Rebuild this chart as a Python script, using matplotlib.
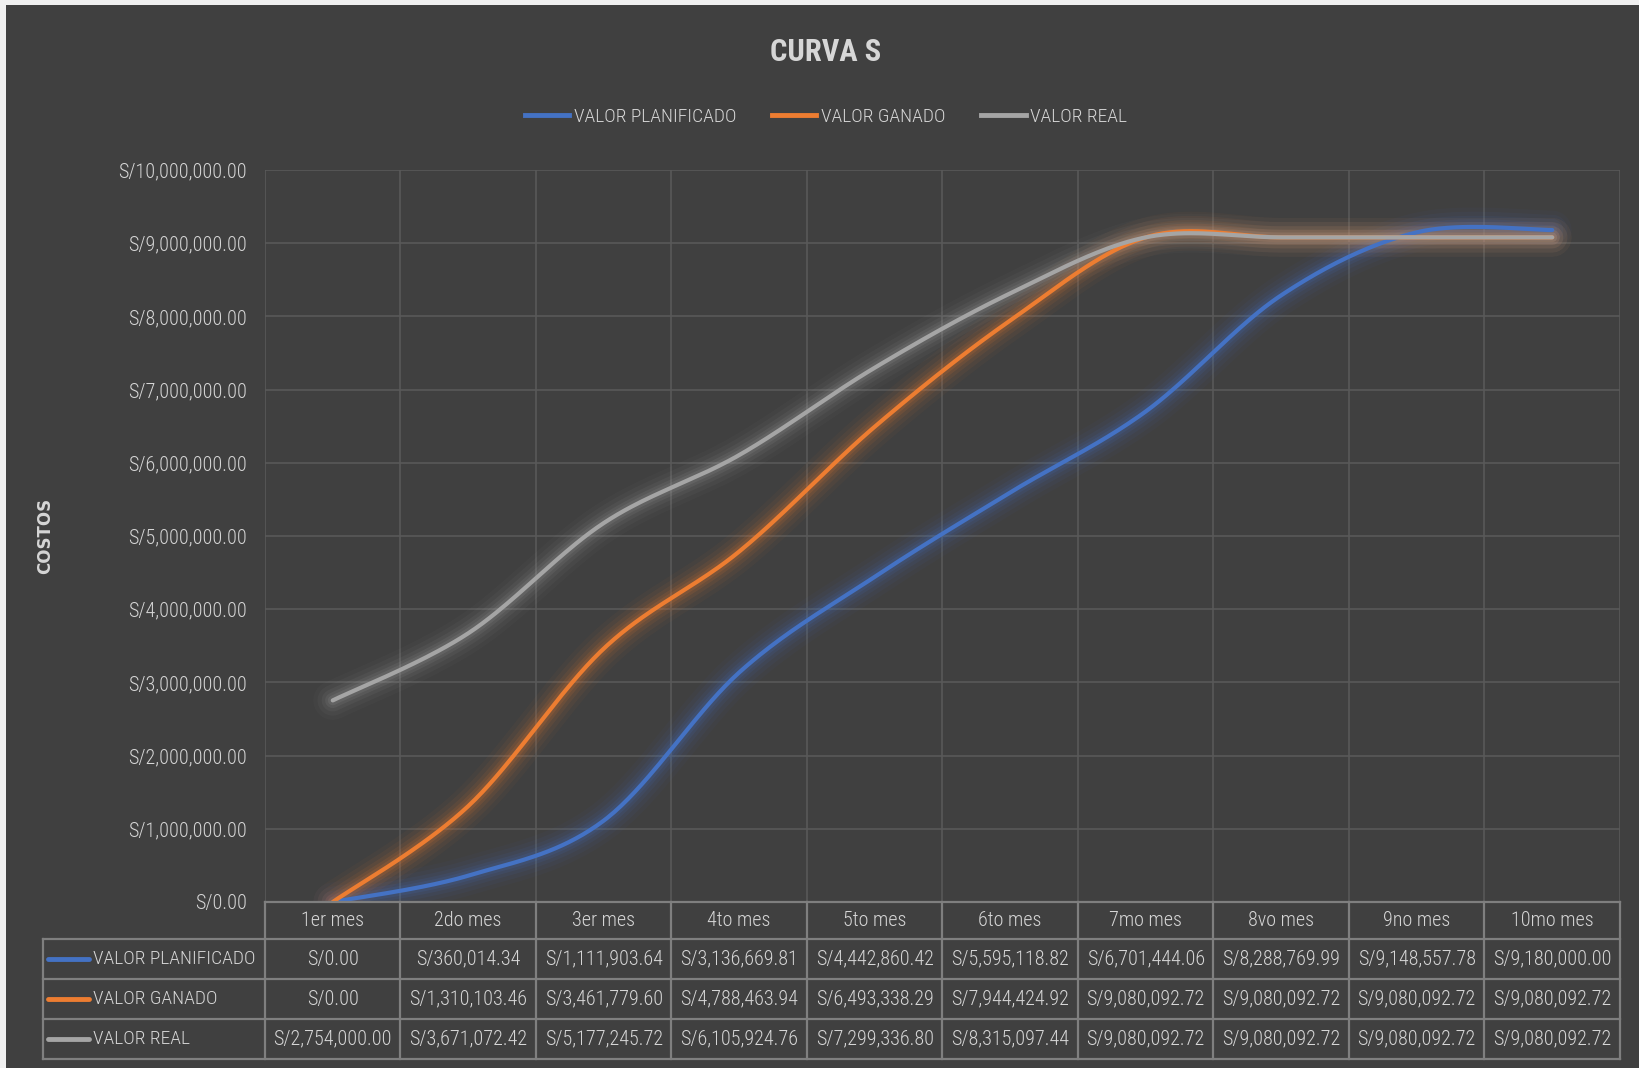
import numpy as np
import matplotlib
matplotlib.use("Agg")
import matplotlib.pyplot as plt
from matplotlib.patches import Rectangle
from matplotlib.lines import Line2D

plt.rcParams['font.family'] = ['Roboto Condensed', 'DejaVu Sans']
plt.rcParams['font.weight'] = 'light'

# --- data ---
meses = ["1er mes", "2do mes", "3er mes", "4to mes", "5to mes",
         "6to mes", "7mo mes", "8vo mes", "9no mes", "10mo mes"]
planificado = [0.00, 360014.34, 1111903.64, 3136669.81, 4442860.42,
               5595118.82, 6701444.06, 8288769.99, 9148557.78, 9180000.00]
ganado = [0.00, 1310103.46, 3461779.60, 4788463.94, 6493338.29,
          7944424.92, 9080092.72, 9080092.72, 9080092.72, 9080092.72]
real = [2754000.00, 3671072.42, 5177245.72, 6105924.76, 7299336.80,
        8315097.44, 9080092.72, 9080092.72, 9080092.72, 9080092.72]
series_names = ["VALOR PLANIFICADO", "VALOR GANADO", "VALOR REAL"]
y_ticks = np.arange(0, 10_000_001, 1_000_000)

BG = '#404040'
TXT = '#d6d6d6'
GRID = '#595959'
BORDER = '#7f7f7f'
colors = ['#4472C4', '#ED7D31', '#A5A5A5']


def money(v):
    return f"S/{v:,.2f}"


def smooth(y, n=40):
    # bezier smoothing like spreadsheet "smoothed line"
    y = np.asarray(y, float)
    x = np.arange(len(y), dtype=float)
    pts = np.column_stack([x, y])
    out = []
    last = len(pts) - 1
    t = np.linspace(0, 1, n)[:, None]
    for i in range(last):
        p0 = pts[max(i - 1, 0)]
        p1 = pts[i]
        p2 = pts[i + 1]
        p3 = pts[min(i + 2, last)]
        c1 = p1 + (p2 - p0) / 6
        c2 = p2 - (p3 - p1) / 6
        seg = ((1 - t) ** 3) * p1 + 3 * ((1 - t) ** 2) * t * c1 \
            + 3 * (1 - t) * t ** 2 * c2 + t ** 3 * p2
        out.append(seg if i == 0 else seg[1:])
    seg = np.vstack(out)
    return seg[:, 0], seg[:, 1]


W, H = 1640, 1068
fig = plt.figure(figsize=(W / 100, H / 100), dpi=100, facecolor='#f0f0f0')
fig.patches.append(Rectangle((6 / W, 0), 1, 1 - 5 / H, transform=fig.transFigure,
                             facecolor=BG, edgecolor='none', zorder=-10))

x0, x1 = 265, 1620
y_top, y_bot = 170, 902
ax = fig.add_axes([x0 / W, 1 - y_bot / H, (x1 - x0) / W, (y_bot - y_top) / H])
ax.set_facecolor(BG)
ax.set_xlim(-0.5, len(meses) - 0.5)
ax.set_ylim(0, 10_000_000)

for k in range(len(meses) + 1):
    ax.axvline(k - 0.5, color=GRID, lw=1.2, zorder=1)
for v in y_ticks[1:]:
    ax.axhline(v, color=GRID, lw=1.2, zorder=1)
for s in ax.spines.values():
    s.set_visible(False)

ax.set_yticks(y_ticks)
ax.set_yticklabels([money(v) for v in y_ticks], color=TXT, fontsize=14.5)
ax.tick_params(axis='y', length=0, pad=13)
ax.set_xticks([])

# glow + line for each series
for vals, c in zip([planificado, ganado, real], colors):
    sx, sy = smooth(vals)
    for w, a in [(28, 0.04), (22, 0.06), (16, 0.08), (11, 0.11), (7, 0.14)]:
        ax.plot(sx, sy, color=c, lw=w, alpha=a, solid_capstyle='round', zorder=2)
    ax.plot(sx, sy, color=c, lw=3, solid_capstyle='round', zorder=3)

fig.text(826 / W, 1 - 52 / H, "CURVA S", ha='center', va='center',
         fontsize=22, fontweight='bold', color=TXT)
fig.text(45 / W, 1 - 536 / H, "COSTOS", ha='center', va='center', rotation=90,
         fontsize=12, fontweight='bold', color=TXT, family='DejaVu Sans')

handles = [Line2D([], [], color=c, lw=3.5) for c in colors]
leg = fig.legend(handles, series_names, loc='center', ncol=3,
                 bbox_to_anchor=(826 / W, 1 - 117 / H), frameon=False,
                 fontsize=14, handlelength=2.3, handletextpad=0.25,
                 columnspacing=1.8)
for t in leg.get_texts():
    t.set_color(TXT)

# --- data table under the plot ---
rows = [0, 37, 77, 117, 157]
tab = fig.add_axes([x0 / W, 1 - (y_bot + rows[-1]) / H, (x1 - x0) / W, rows[-1] / H])
tab.set_xlim(-0.5, len(meses) - 0.5)
tab.set_ylim(rows[-1], 0)
tab.axis('off')
lab_left = -0.5 - (x0 - 43) / ((x1 - x0) / len(meses))

kw = dict(color=BORDER, lw=1.6, clip_on=False)
tab.plot([-0.5, len(meses) - 0.5], [0, 0], **kw)
for r in rows[1:]:
    tab.plot([lab_left, len(meses) - 0.5], [r, r], **kw)
for k in range(len(meses) + 1):
    tab.plot([k - 0.5, k - 0.5], [0, rows[-1]], **kw)
tab.plot([lab_left, lab_left], [rows[1], rows[-1]], **kw)

for i, m in enumerate(meses):
    tab.text(i, (rows[0] + rows[1]) / 2, m, ha='center', va='center',
             color=TXT, fontsize=14.5)

col_w = (x1 - x0) / len(meses)
for j, (name, vals, c) in enumerate(zip(series_names, [planificado, ganado, real], colors)):
    yc = (rows[j + 1] + rows[j + 2]) / 2
    tab.plot([lab_left + 5 / col_w, lab_left + 46 / col_w], [yc, yc], color=c,
             lw=3.5, solid_capstyle='round', clip_on=False)
    tab.text(lab_left + 50 / col_w, yc, name, ha='left', va='center',
             color=TXT, fontsize=14, clip_on=False)
    for i, v in enumerate(vals):
        tab.text(i, yc, money(v), ha='center', va='center', color=TXT, fontsize=14.5)

fig.savefig("out.png", dpi=100, facecolor=fig.get_facecolor())
